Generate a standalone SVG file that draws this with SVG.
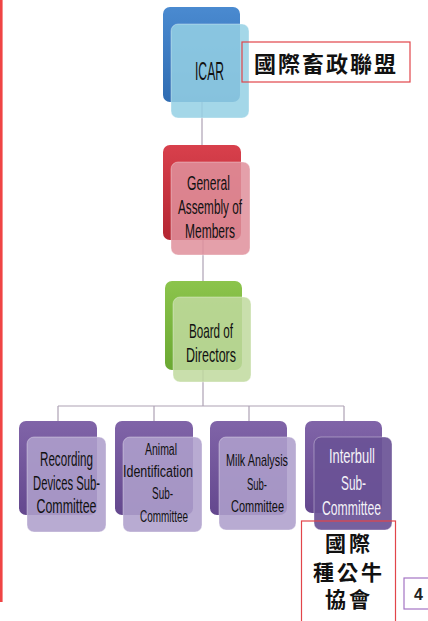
<svg xmlns="http://www.w3.org/2000/svg" width="428" height="621" viewBox="0 0 428 621">
  <defs>
    <linearGradient id="gBlue" x1="0" y1="0" x2="0" y2="1">
      <stop offset="0" stop-color="#4a8ad0"/>
      <stop offset="1" stop-color="#2f6cb2"/>
    </linearGradient>
    <linearGradient id="gRed" x1="0" y1="0" x2="0" y2="1">
      <stop offset="0" stop-color="#d8404c"/>
      <stop offset="1" stop-color="#b42632"/>
    </linearGradient>
    <linearGradient id="gGreen" x1="0" y1="0" x2="0" y2="1">
      <stop offset="0" stop-color="#8cc44c"/>
      <stop offset="1" stop-color="#6aa832"/>
    </linearGradient>
    <linearGradient id="gPurple" x1="0" y1="0" x2="0" y2="1">
      <stop offset="0" stop-color="#8064a8"/>
      <stop offset="1" stop-color="#64488e"/>
    </linearGradient>
    <style>
      .back { stroke: none; }
      .front { stroke: #ffffff; stroke-opacity: 0.35; stroke-width: 1; }
      .blueF { fill: #95d0e4; fill-opacity: 0.86; }
      .redF { fill: #e0909c; fill-opacity: 0.86; }
      .greenF { fill: #c0da9e; fill-opacity: 0.86; }
      .purpleF { fill: #ae9fcc; fill-opacity: 0.88; }
      .darkF { fill: #6a5396; fill-opacity: 0.92; }
      .lbl { font-family: "Liberation Sans", Arial, sans-serif; fill: #111111; text-anchor: middle; }
      .white { fill: #f4f2f8; }
      .cjk { font-family: "Noto Sans CJK TC", "Noto Sans CJK SC", sans-serif; font-weight: bold; fill: #111111; text-anchor: middle; }
      .note { fill: none; stroke: #e2454a; stroke-width: 1.2; }
      .wire { fill: none; stroke: #ada2b4; stroke-width: 1.2; }
    </style>
  </defs>

  <rect width="428" height="621" fill="#ffffff"/>

  <!-- page margin rule -->
  <line x1="1.3" y1="0" x2="1.3" y2="602" stroke="#f04545" stroke-width="2.6"/>

  <!-- connectors -->
  <g id="connectors">
    <line class="wire" x1="202" y1="102" x2="202" y2="145"/>
    <line class="wire" x1="203" y1="240" x2="203" y2="281"/>
    <line class="wire" x1="203" y1="370" x2="203" y2="406"/>
    <line class="wire" x1="58" y1="406" x2="344" y2="406"/>
    <line class="wire" x1="58" y1="406" x2="58" y2="421"/>
    <line class="wire" x1="154" y1="406" x2="154" y2="421"/>
    <line class="wire" x1="249" y1="406" x2="249" y2="421"/>
    <line class="wire" x1="344" y1="406" x2="344" y2="421"/>
  </g>

  <g id="icar">
    <rect class="back" x="163" y="7" width="77" height="95" rx="7" fill="url(#gBlue)"/>
    <rect class="front blueF" x="171" y="24" width="78" height="94" rx="7"/>
    <text class="lbl" x="209.5" y="80" font-size="25" textLength="29" lengthAdjust="spacingAndGlyphs">ICAR</text>
  </g>

  <g id="general-assembly">
    <rect class="back" x="163" y="145" width="78" height="95" rx="7" fill="url(#gRed)"/>
    <rect class="front redF" x="171" y="162" width="79" height="93" rx="7"/>
    <text class="lbl" x="208.5" y="190" font-size="20" textLength="43" lengthAdjust="spacingAndGlyphs">General</text>
    <text class="lbl" x="210" y="214" font-size="20" textLength="64" lengthAdjust="spacingAndGlyphs">Assembly of</text>
    <text class="lbl" x="210" y="238" font-size="20" textLength="50" lengthAdjust="spacingAndGlyphs">Members</text>
  </g>

  <g id="board">
    <rect class="back" x="165" y="281" width="77" height="89" rx="7" fill="url(#gGreen)"/>
    <rect class="front greenF" x="173" y="297" width="78" height="85" rx="7"/>
    <text class="lbl" x="211" y="338" font-size="21" textLength="44" lengthAdjust="spacingAndGlyphs">Board of</text>
    <text class="lbl" x="211" y="362" font-size="21" textLength="50" lengthAdjust="spacingAndGlyphs">Directors</text>
  </g>

  <g id="recording-devices">
    <rect class="back" x="19" y="421" width="78" height="94" rx="7" fill="url(#gPurple)"/>
    <rect class="front purpleF" x="27" y="437" width="79" height="95" rx="7"/>
    <text class="lbl" x="66.5" y="466" font-size="21" textLength="53" lengthAdjust="spacingAndGlyphs">Recording</text>
    <text class="lbl" x="66.5" y="490" font-size="21" textLength="67" lengthAdjust="spacingAndGlyphs">Devices Sub-</text>
    <text class="lbl" x="66.5" y="513" font-size="21" textLength="60" lengthAdjust="spacingAndGlyphs">Committee</text>
  </g>

  <g id="animal-identification">
    <rect class="back" x="115" y="421" width="78" height="94" rx="7" fill="url(#gPurple)"/>
    <rect class="front purpleF" x="123" y="437" width="79" height="95" rx="7"/>
    <text class="lbl" x="161" y="455" font-size="16" textLength="32" lengthAdjust="spacingAndGlyphs">Animal</text>
    <text class="lbl" x="158" y="477" font-size="16" textLength="70" lengthAdjust="spacingAndGlyphs">Identification</text>
    <text class="lbl" x="162.5" y="499" font-size="16" textLength="21" lengthAdjust="spacingAndGlyphs">Sub-</text>
    <text class="lbl" x="164" y="522" font-size="16" textLength="48" lengthAdjust="spacingAndGlyphs">Committee</text>
  </g>

  <g id="milk-analysis">
    <rect class="back" x="210" y="421" width="77" height="94" rx="7" fill="url(#gPurple)"/>
    <rect class="front purpleF" x="219" y="437" width="77" height="93" rx="7"/>
    <text class="lbl" x="257" y="466" font-size="17" textLength="62" lengthAdjust="spacingAndGlyphs">Milk Analysis</text>
    <text class="lbl" x="257" y="490" font-size="17" textLength="20" lengthAdjust="spacingAndGlyphs">Sub-</text>
    <text class="lbl" x="257.5" y="512" font-size="17" textLength="53" lengthAdjust="spacingAndGlyphs">Committee</text>
  </g>

  <g id="interbull">
    <rect class="back" x="305" y="421" width="77" height="92" rx="7" fill="url(#gPurple)"/>
    <rect class="front darkF" x="314" y="437" width="78" height="93" rx="7"/>
    <text class="lbl white" x="352" y="463" font-size="21" textLength="46" lengthAdjust="spacingAndGlyphs">Interbull</text>
    <text class="lbl white" x="353.5" y="490" font-size="21" textLength="25" lengthAdjust="spacingAndGlyphs">Sub-</text>
    <text class="lbl white" x="351.5" y="515" font-size="21" textLength="59" lengthAdjust="spacingAndGlyphs">Committee</text>
  </g>

  <!-- Chinese annotations -->
  <g id="note-icar">
    <rect class="note" x="242" y="42" width="168" height="40"/>
    <text class="cjk" x="326" y="72" font-size="22" letter-spacing="2">國際畜政聯盟</text>
  </g>

  <g id="note-interbull">
    <rect class="note" x="301.5" y="521" width="94" height="106"/>
    <text class="cjk" x="349" y="551" font-size="21" letter-spacing="3">國際</text>
    <text class="cjk" x="349" y="580" font-size="21" letter-spacing="3">種公牛</text>
    <text class="cjk" x="349" y="607" font-size="21" letter-spacing="3">協會</text>
  </g>

  <!-- page number -->
  <g id="page-number">
    <rect x="404" y="578" width="30" height="31" fill="#ffffff" stroke="#a474c4" stroke-width="1.2"/>
    <text x="418.5" y="600" font-family="Liberation Sans, Arial, sans-serif" font-size="16" font-weight="bold" fill="#222222" text-anchor="middle">4</text>
  </g>
</svg>
